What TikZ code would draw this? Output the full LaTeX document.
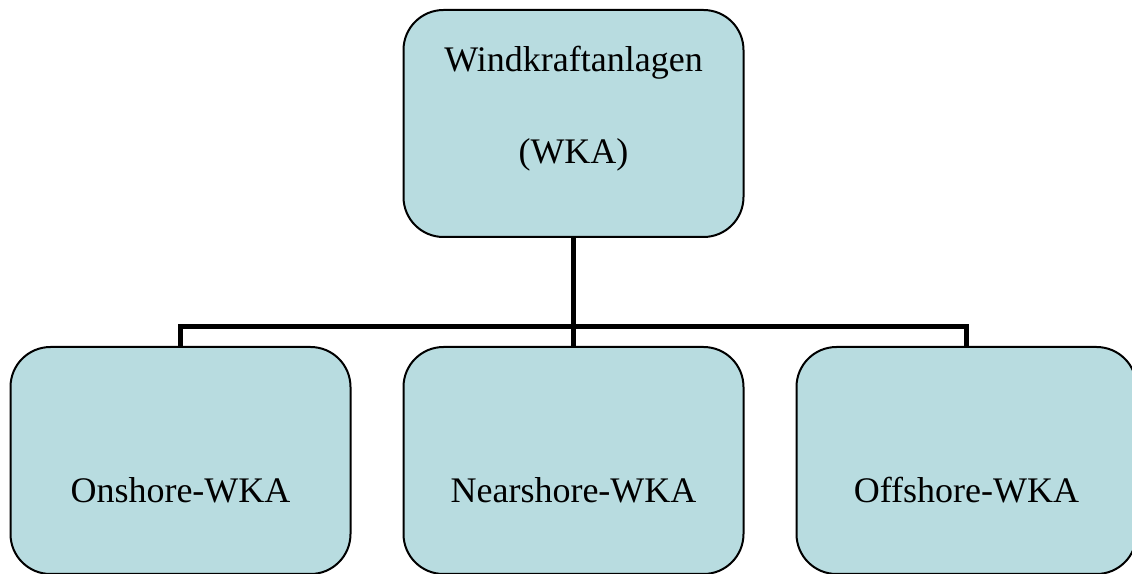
\documentclass[tikz,border=0pt]{standalone}
\usepackage{fontspec}
\setmainfont{Liberation Serif}
\definecolor{boxfill}{HTML}{B8DCE0}

\begin{document}
\begin{tikzpicture}[x=0.5pt,y=0.5pt,
  wka/.style={rectangle,rounded corners=20pt,draw,line width=1pt,fill=boxfill,
    minimum width=170pt,minimum height=113.5pt,font=\fontsize{18pt}{21pt}\selectfont},
  level distance=168.5pt,
  level 1/.style={sibling distance=196.5pt},
  edge from parent/.style={draw,line width=2.5pt},
  edge from parent path={(\tikzparentnode.south) -- ++(0,-89) -| (\tikzchildnode.north)}]
\useasboundingbox (0,0) rectangle (1132,574);
\node [wka,text depth=21pt] (wka) at (573.5,450.5)
  {\begin{tabular}[b]{@{}c@{}}Windkraftanlagen\\[25pt](WKA)\end{tabular}}
  child {
  node [wka,text height=42pt,text depth=0pt] (on) {Onshore-WKA}
  }
  child {
  node [wka,text height=42pt,text depth=0pt] (near) {Nearshore-WKA}
  }
  child {
  node [wka,text height=42pt,text depth=0pt] (off) {Offshore-WKA}
  };
\end{tikzpicture}
\end{document}
